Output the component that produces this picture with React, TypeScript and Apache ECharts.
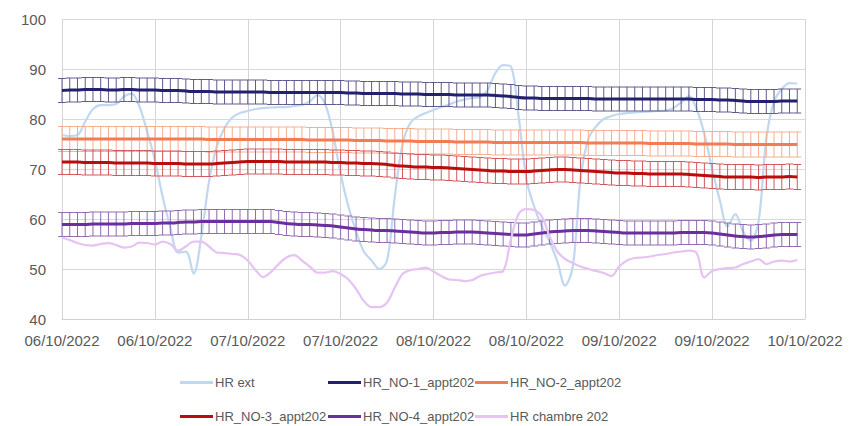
import React, { useEffect, useRef } from "react";
import * as echarts from "echarts";

// Hourly readings, 06/10/2022 00:00 → 09/10/2022 23:00 (96 points)
const xTickLabels = [
  "06/10/2022", "06/10/2022", "07/10/2022", "07/10/2022", "08/10/2022",
  "08/10/2022", "09/10/2022", "09/10/2022", "10/10/2022",
];
const yTicks = { min: 40, max: 100, interval: 10 };

const seriesNames = [
  "HR ext", "HR_NO-1_appt202", "HR_NO-2_appt202",
  "HR_NO-3_appt202", "HR_NO-4_appt202", "HR chambre 202",
];

const hrExt = [
  76.8, 76.6, 76.8, 79.5, 82.0, 82.8, 82.8, 83.0, 84.5, 85.1, 82.5, 77.5,
  71.8, 64.5, 58.3, 53.3, 53.5, 49.1, 56.5, 67.5, 74.5, 78.2, 80.3, 81.2,
  81.6, 82.0, 82.2, 82.3, 82.4, 82.4, 82.6, 82.8, 83.5, 84.8, 83.0, 77.2,
  69.0, 62.5, 57.5, 53.5, 51.7, 50.0, 51.7, 64.5, 75.0, 79.2, 80.5, 81.2,
  81.8, 82.4, 82.9, 83.5, 83.9, 84.2, 84.4, 85.8, 89.2, 90.8, 90.5, 80.5,
  68.0, 62.5, 58.5, 55.5, 51.5, 46.7, 50.5, 68.0, 76.0, 78.5, 80.0, 80.6,
  81.0, 81.2, 81.3, 81.4, 81.5, 81.6, 81.7, 82.2, 83.3, 84.6, 82.0, 77.0,
  70.0, 63.7, 58.5, 61.0, 57.5, 55.7, 59.5, 76.0, 83.5, 86.0, 87.2, 87.1,
];

const hrNo1 = [
  85.7, 85.8, 85.8, 85.9, 85.9, 85.9, 85.8, 85.8, 85.9, 85.9, 85.8, 85.8,
  85.8, 85.7, 85.7, 85.7, 85.6, 85.5, 85.5, 85.5, 85.4, 85.4, 85.4, 85.4,
  85.4, 85.4, 85.4, 85.3, 85.3, 85.3, 85.3, 85.3, 85.3, 85.3, 85.3, 85.3,
  85.3, 85.2, 85.2, 85.1, 85.1, 85.1, 85.1, 85.1, 85.0, 85.0, 85.0, 84.9,
  84.9, 84.9, 84.9, 84.8, 84.8, 84.8, 84.8, 84.8, 84.7, 84.6, 84.5, 84.3,
  84.2, 84.2, 84.1, 84.1, 84.1, 84.1, 84.1, 84.1, 84.1, 84.0, 84.0, 84.0,
  84.0, 84.0, 84.0, 84.0, 84.0, 84.0, 84.0, 84.0, 84.0, 84.0, 83.9, 83.9,
  83.9, 83.8, 83.8, 83.7, 83.6, 83.5, 83.5, 83.5, 83.5, 83.6, 83.6, 83.6,
];

const hrNo2 = [
  76.0, 76.0, 76.0, 76.0, 76.0, 76.0, 76.0, 76.0, 76.0, 76.0, 76.0, 76.0,
  76.0, 76.0, 76.0, 76.0, 76.0, 76.0, 76.0, 75.9, 75.9, 75.9, 75.9, 75.9,
  75.9, 75.9, 75.9, 75.9, 75.9, 75.9, 75.9, 75.9, 75.8, 75.8, 75.8, 75.8,
  75.8, 75.8, 75.7, 75.7, 75.7, 75.7, 75.6, 75.6, 75.6, 75.6, 75.5, 75.5,
  75.5, 75.5, 75.5, 75.4, 75.4, 75.4, 75.4, 75.4, 75.3, 75.3, 75.3, 75.3,
  75.3, 75.3, 75.3, 75.3, 75.3, 75.3, 75.3, 75.3, 75.2, 75.2, 75.2, 75.2,
  75.2, 75.2, 75.2, 75.2, 75.1, 75.1, 75.1, 75.1, 75.1, 75.1, 75.0, 75.0,
  75.0, 75.0, 75.0, 74.9, 74.9, 74.9, 74.9, 74.9, 74.9, 74.9, 74.9, 74.9,
];

const hrNo3 = [
  71.4, 71.4, 71.4, 71.3, 71.3, 71.3, 71.3, 71.2, 71.2, 71.2, 71.2, 71.2,
  71.1, 71.1, 71.1, 71.1, 71.0, 71.0, 71.0, 71.0, 71.1, 71.2, 71.3, 71.4,
  71.5, 71.5, 71.5, 71.5, 71.5, 71.4, 71.4, 71.4, 71.4, 71.4, 71.4, 71.3,
  71.3, 71.2, 71.2, 71.1, 71.1, 71.0, 70.9, 70.7, 70.6, 70.5, 70.4, 70.4,
  70.3, 70.3, 70.2, 70.1, 70.0, 69.9, 69.8, 69.7, 69.6, 69.6, 69.5, 69.5,
  69.5, 69.6, 69.7, 69.8, 69.9, 69.9, 69.8, 69.7, 69.6, 69.5, 69.4, 69.3,
  69.2, 69.2, 69.1, 69.1, 69.0, 69.0, 69.0, 69.0, 69.0, 68.9, 68.8, 68.7,
  68.6, 68.5, 68.4, 68.4, 68.4, 68.4, 68.3, 68.4, 68.4, 68.4, 68.5, 68.4,
];

const hrNo4 = [
  58.9, 58.9, 58.9, 58.9, 59.0, 59.0, 59.0, 59.0, 59.0, 59.1, 59.1, 59.1,
  59.1, 59.2, 59.2, 59.3, 59.4, 59.4, 59.5, 59.5, 59.5, 59.5, 59.5, 59.5,
  59.5, 59.5, 59.5, 59.5, 59.3, 59.1, 59.0, 58.9, 58.9, 58.8, 58.7, 58.6,
  58.4, 58.2, 58.0, 57.9, 57.8, 57.7, 57.7, 57.6, 57.5, 57.4, 57.3, 57.2,
  57.2, 57.3, 57.3, 57.4, 57.4, 57.4, 57.3, 57.2, 57.1, 57.0, 56.9, 56.8,
  56.8, 57.0, 57.2, 57.4, 57.5, 57.6, 57.7, 57.7, 57.7, 57.6, 57.5, 57.4,
  57.3, 57.2, 57.2, 57.2, 57.2, 57.2, 57.2, 57.2, 57.3, 57.3, 57.3, 57.3,
  57.2, 57.0, 56.8, 56.6, 56.5, 56.4, 56.5, 56.6, 56.8, 56.9, 56.9, 56.9,
];

const hrChambre = [
  56.3, 55.8, 55.2, 54.8, 54.7, 55.0, 55.2, 54.8, 54.3, 54.5, 55.3, 55.2,
  54.9, 55.5, 55.0, 53.7, 54.5, 55.5, 55.5, 54.5, 53.3, 53.2, 53.0, 52.8,
  51.7, 49.8, 48.4, 49.4, 51.0, 52.3, 52.8, 51.7, 50.5, 49.3, 49.3, 49.6,
  49.0, 47.9, 46.0, 43.6, 42.4, 42.4, 43.3, 46.3, 49.0, 49.8, 50.0, 50.3,
  49.5, 48.6, 47.9, 47.8, 47.6, 47.8, 48.6, 49.0, 49.3, 49.6, 56.0, 61.0,
  62.0, 61.8, 60.5, 56.5, 53.5, 52.0, 51.2, 50.5, 50.0, 49.6, 49.2, 48.6,
  50.5, 51.7, 52.2, 52.3, 52.5, 52.8, 53.0, 53.3, 53.5, 53.7, 53.2, 48.3,
  49.6, 50.0, 50.2, 50.3, 51.0, 51.5, 52.0, 51.0, 51.5, 51.7, 51.5, 51.8,
];

// Error bar half-widths (±) for the four NO series
const errorMargins = [2.4, 2.5, 2.5, 2.4];

const lineColors = ["#C2D8EF", "#23206E", "#F27D55", "#B80D0D", "#6A2E9E", "#E6C3F2"];
const errColors = ["#5E5B8C", "#F6AE90", "#D2565A", "#8F6BB0"];

const categories = Array.from({ length: 97 }, (_, i) => String(i));

const TEXT = "#595959";
const FONT = "'Liberation Sans', Arial, sans-serif";

export default function App() {
  const ref = useRef<HTMLDivElement>(null);

  useEffect(() => {
    if (!ref.current) return;
    const chart = echarts.init(ref.current, null, { renderer: "svg" });

    const noSeries = [hrNo1, hrNo2, hrNo3, hrNo4];

    const errorSeries = noSeries.map((vals, k) => ({
      type: "custom",
      name: "err" + k,
      silent: true,
      z: 2,
      encode: { x: 0, y: [1, 2] },
      data: vals.map((v, i) => [i, v - errorMargins[k], v + errorMargins[k]]),
      renderItem: (params: any, api: any) => {
        const i = api.value(0);
        const lo = api.coord([i, api.value(1)]);
        const hi = api.coord([i, api.value(2)]);
        const half = api.size([1, 0])[0] / 2;
        const style = { stroke: errColors[k], lineWidth: 1 };
        return {
          type: "group",
          children: [
            { type: "line", shape: { x1: lo[0], y1: lo[1], x2: hi[0], y2: hi[1] }, style },
            { type: "line", shape: { x1: hi[0] - half, y1: hi[1], x2: hi[0] + half, y2: hi[1] }, style },
            { type: "line", shape: { x1: lo[0] - half, y1: lo[1], x2: lo[0] + half, y2: lo[1] }, style },
          ],
        };
      },
    }));

    const allVals = [hrExt, hrNo1, hrNo2, hrNo3, hrNo4, hrChambre];
    const lineSeries = allVals.map((vals, k) => ({
      type: "line",
      name: seriesNames[k],
      data: vals,
      showSymbol: false,
      symbol: "none",
      smooth: k === 0 || k === 5 ? 0.35 : 0.2,
      color: lineColors[k],
      lineStyle: {
        color: lineColors[k],
        width: k === 0 || k === 5 ? 2.25 : 3,
      },
      z: k === 0 ? 1 : 3,
    }));

    const series: any[] = [
      lineSeries[0],
      errorSeries[0], lineSeries[1],
      errorSeries[1], lineSeries[2],
      errorSeries[2], lineSeries[3],
      errorSeries[3], lineSeries[4],
      lineSeries[5],
    ];

    const legendCols = [180, 328, 475];
    const legendRows = [376, 410];

    chart.setOption({
      animation: false,
      backgroundColor: "#ffffff",
      textStyle: { fontFamily: FONT },
      grid: { left: 62, right: 62, top: 19, bottom: 107, containLabel: false },
      xAxis: {
        type: "category",
        data: categories,
        boundaryGap: false,
        axisLine: { show: true, lineStyle: { color: "#D0D0D0", width: 1 } },
        axisTick: { show: false },
        splitLine: { show: true, interval: 11, lineStyle: { color: "#D4D4DA", width: 1 } },
        axisLabel: {
          interval: 11,
          margin: 14,
          color: TEXT,
          fontSize: 15,
          fontFamily: FONT,
          formatter: (_v: string, idx: number) => xTickLabels[Math.round(idx / 12)] ?? "",
        },
      },
      yAxis: {
        type: "value",
        min: yTicks.min,
        max: yTicks.max,
        interval: yTicks.interval,
        axisLine: { show: false },
        axisTick: { show: false },
        splitLine: { show: true, lineStyle: { color: "#D9D9D9", width: 1 } },
        axisLabel: { color: TEXT, fontSize: 15, margin: 16, fontFamily: FONT },
      },
      legend: seriesNames.map((n, k) => ({
        data: [n],
        left: legendCols[k % 3],
        top: legendRows[Math.floor(k / 3)],
        icon: "rect",
        itemWidth: 33,
        itemHeight: 3,
        padding: 0,
        selectedMode: false,
        textStyle: { color: TEXT, fontSize: 13, fontFamily: FONT, padding: [0, 0, 0, -3] },
      })),
      series,
    });

    return () => chart.dispose();
  }, []);

  return (
    <div
      ref={ref}
      style={{ position: "absolute", left: 0, top: 0, width: 867, height: 426 }}
    />
  );
}
